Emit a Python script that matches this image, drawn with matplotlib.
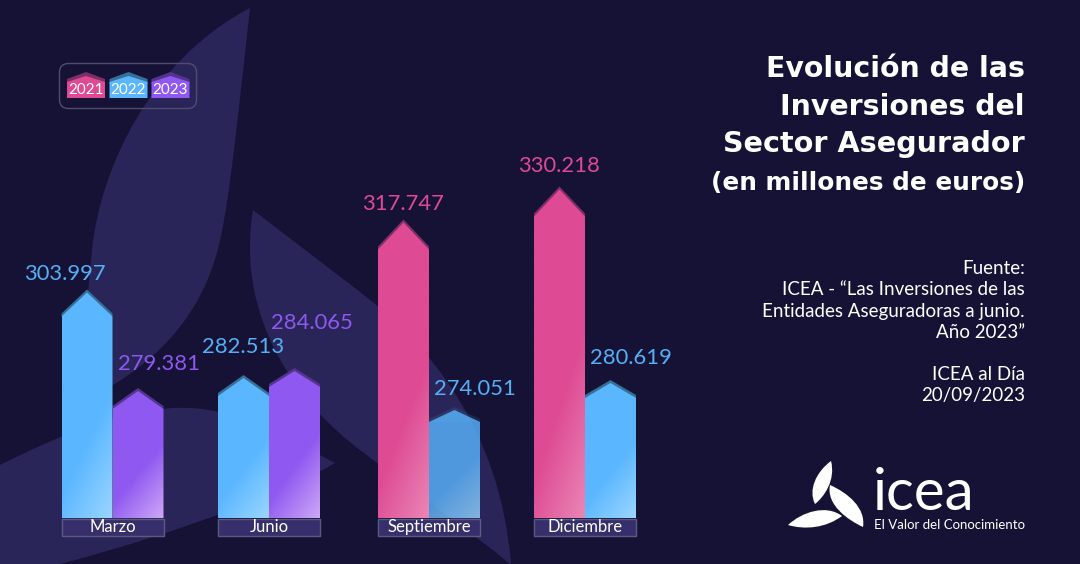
#!/usr/bin/env python3
"""Evolucion de las inversiones del sector asegurador (ICEA)."""

import numpy as np
import matplotlib
matplotlib.use("Agg")
import matplotlib.pyplot as plt
from matplotlib.path import Path
from matplotlib.patches import PathPatch, FancyBboxPatch, Rectangle, Polygon
from matplotlib.colors import to_rgb

# Data (millones de euros, en miles)
months = ["Marzo", "Junio", "Septiembre", "Diciembre"]
years = ["2021", "2022", "2023"]
values_2021 = [None, None, 317.747, 330.218]
values_2022 = [303.997, 282.513, 274.051, 280.619]
values_2023 = [279.381, 284.065, None, None]

title_lines = ["Evolución de las", "Inversiones del", "Sector Asegurador", "(en millones de euros)"]
source_lines = ["Fuente:", "ICEA - “Las Inversiones de las", "Entidades Aseguradoras a junio.",
                "Año 2023”", "", "ICEA al Día", "20/09/2023"]

# Colours
BG = "#161236"
LEAF = "#2A2558"
BASE = {"2021": "#DE4A93", "2022": "#5AB6FF", "2023": "#8F58F0"}
LIGHT = {"2021": "#EA86B6", "2022": "#9AD6FF", "2023": "#CDA8F8"}
CAP = {"2021": "#7E2F66", "2022": "#36709A", "2023": "#53348F"}

FONT = "Lato"
BAR_W = 51
BASE_VALUE = 245.72

group_centers = [112.5, 269, 429, 585]
# the original bars are hand placed, so the value axis is piecewise: value -> pixel row
scale_v = [233.97, BASE_VALUE, 274.051, 279.381, 280.619, 282.513, 284.065, 303.997, 317.747, 330.218, 377.96]
scale_px = [564, 518, 407, 388, 380, 375, 368, 289.5, 219.5, 186.5, 0]
# height of the roof (px) and label offset (px from the peak) for each bar, by (month, year)
roof = {(0, "2022"): 24, (0, "2023"): 18, (1, "2022"): 18, (1, "2023"): 16,
        (2, "2021"): 27, (2, "2022"): 12, (3, "2021"): 27, (3, "2022"): 15}
label_off = {(0, "2022"): (-22, 16), (0, "2023"): (21, 24), (1, "2022"): (0, 28), (1, "2023"): (17, 45),
             (2, "2021"): (0, 15), (2, "2022"): (20, 18), (3, "2021"): (0, 20), (3, "2022"): (20, 22)}


def to_row(v):
    return 564 - np.interp(v, scale_v, scale_px)


def from_row(r):
    return np.interp(564 - np.asarray(r), scale_px[::-1], scale_v[::-1])


def below(v, px):
    """Value that sits px pixels under v on the axis."""
    return float(from_row(to_row(v) - px))


def curve(start, *segments):
    """Closed bezier outline in pixel coordinates."""
    verts = [start]
    codes = [Path.MOVETO]
    for seg in segments:
        verts.extend(seg)
        codes.extend([Path.CURVE4] * 3 if len(seg) == 3 else [Path.LINETO])
    verts.append(start)
    codes.append(Path.CLOSEPOLY)
    return Path(verts, codes)


def gradient(year):
    """Flat colour with a lighter bottom right corner."""
    yy, xx = np.mgrid[0:1:128j, 0:1:32j]
    t = np.clip((yy + 0.45 * xx - 0.88) / 0.57, 0, 1)[..., None]
    return np.array(to_rgb(BASE[year])) * (1 - t) + np.array(to_rgb(LIGHT[year])) * t


fig = plt.figure(figsize=(10.8, 5.64), dpi=100, facecolor=BG)

# Pixel axes: background, boxes, texts
bg = fig.add_axes([0, 0, 1, 1], zorder=0)
bg.set_xlim(0, 1080)
bg.set_ylim(564, 0)
bg.axis("off")

leaves = [
    curve((250, 8), [(243, 70), (233, 170), (224, 220)], [(216, 270), (195, 335), (113, 385)],
          [(95, 395), (80, 410), (70, 420)], [(85, 340), (88, 290), (92, 250)],
          [(100, 170), (150, 60), (250, 8)]),
    curve((253, 210), [(360, 292)], [(430, 345), (500, 430), (511, 564)], [(510, 564)], [(493, 550)],
          [(450, 518), (400, 480), (360, 450)], [(300, 405), (235, 320), (253, 210)]),
    curve((0, 465), [(60, 435), (130, 405), (190, 408)], [(240, 410), (290, 440), (335, 463)],
          [(295, 487), (190, 530), (60, 564)], [(0, 564)]),
]
for leaf in leaves:
    bg.add_patch(PathPatch(leaf, fc=LEAF, ec="none", zorder=1))

# Legend
bg.add_patch(FancyBboxPatch((59.5, 63.5), 137, 45, boxstyle="round,pad=0,rounding_size=9",
                            fc="none", ec="#4F4C70", lw=1, zorder=2))
for year, x0 in zip(years, [67, 109.5, 151.5]):
    bg.add_patch(Polygon([(x0, 79), (x0 + 19, 72), (x0 + 38, 79), (x0 + 38, 84), (x0, 84)], fc=CAP[year], zorder=3))
    bg.add_patch(Polygon([(x0, 82), (x0 + 19, 76), (x0 + 38, 82), (x0 + 38, 98), (x0, 98)], fc=BASE[year], zorder=4))
    bg.text(x0 + 19, 89.5, year, color="white", fontsize=11, family=FONT, ha="center", va="center", zorder=5)

# Month boxes
for month, xc in zip(months, group_centers):
    bg.add_patch(Rectangle((xc - 51, 519), 102, 17, fc="#362F6B", ec="#5C5A85", lw=1, zorder=2))
    bg.text(xc, 527, month, color="white", fontsize=12, family=FONT, ha="center", va="center", zorder=3)

# Bars, on a value scale
ax = fig.add_axes([0, 0, 1, 1], zorder=1)
ax.patch.set_alpha(0)
ax.axis("off")
ax.set_yscale("function", functions=(to_row, from_row))
series = {"2021": values_2021, "2022": values_2022, "2023": values_2023}
for i, xc in enumerate(group_centers):
    present = [y for y in years if series[y][i] is not None]
    for j, year in enumerate(present):
        v = series[year][i]
        x0 = xc - BAR_W + j * BAR_W
        x1 = x0 + BAR_W
        xm = (x0 + x1) / 2
        r = roof[(i, year)]
        faded = (i, year) == (2, "2022")
        alpha = 0.8 if faded else 1.0
        ax.add_patch(Polygon([(x0, below(v, r)), (xm, v), (x1, below(v, r)), (x1, below(v, r + 3)), (x0, below(v, r + 3))],
                             fc=CAP[year], ec="none", alpha=0.25 if faded else 1.0, zorder=2))
        body = Polygon([(x0, BASE_VALUE), (x0, below(v, r + 3)), (xm, below(v, 3)), (x1, below(v, r + 3)), (x1, BASE_VALUE)],
                       fc="none", ec="none", zorder=3)
        ax.add_patch(body)
        im = ax.imshow(gradient(year), extent=[x0, x1, BASE_VALUE, v], aspect="auto",
                       alpha=alpha, zorder=3, interpolation="bilinear")
        im.set_clip_path(body)
        dx, dy = label_off[(i, year)]
        ax.annotate(f"{v:.3f}", (xm, v), xytext=(dx * 0.72, dy * 0.72), textcoords="offset points",
                    color=BASE[year] if year != "2022" else "#55B0F5", fontsize=15.8, family=FONT,
                    ha="center", va="center", zorder=5)

ax.set_xlim(0, 1080)
ax.set_ylim(scale_v[0], scale_v[-1])

# Title and source
for line, y, size in zip(title_lines, [77, 115, 152, 190], [20.4, 20.4, 20.6, 17.8]):
    bg.text(1025, y, line, color="white", fontsize=size, fontweight="bold", family="DejaVu Sans",
            ha="right", va="baseline", zorder=5)
for line, y in zip(source_lines, [268, 289.5, 311, 332, 353, 374, 395]):
    bg.text(1025, y, line, color="white", fontsize=13.5, family=FONT, ha="right", va="center", zorder=5)

# Logo
logo = [
    curve((831, 461), [(816, 472), (808, 490), (815, 504)], [(824, 497), (836, 480), (831, 461)]),
    curve((830, 485), [(848, 493), (866, 508), (863, 527)], [(848, 520), (826, 505), (830, 485)]),
    curve((788, 525), [(802, 512), (826, 504), (842, 516)], [(826, 528), (805, 530), (788, 525)]),
]
for leaf in logo:
    bg.add_patch(PathPatch(leaf, fc="white", ec="none", zorder=5))
bg.text(873, 494, "icea", color="white", fontsize=42, family=FONT, ha="left", va="center", zorder=5)
bg.text(874, 525, "El Valor del Conocimiento", color="white", fontsize=9.5, family=FONT, ha="left", va="center", zorder=5)

fig.savefig("out.png", dpi=100, facecolor=BG)
